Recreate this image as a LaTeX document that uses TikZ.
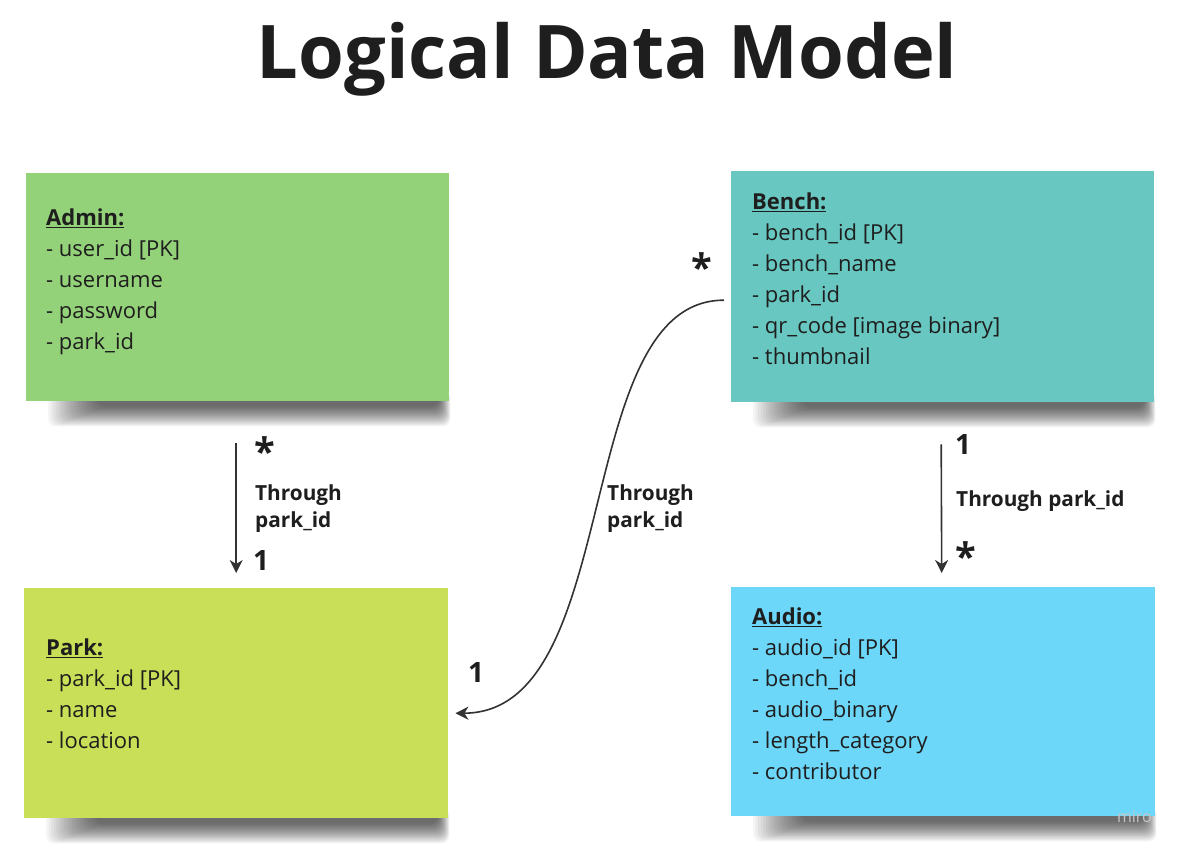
\documentclass[tikz,border=0pt]{standalone}
\usepackage{fontspec}
\setmainfont{Open Sans}
\usetikzlibrary{arrows.meta,backgrounds}

\definecolor{inkdark}{HTML}{1E1E1E}
\definecolor{linecol}{HTML}{333333}
\definecolor{admincol}{HTML}{94D27A}
\definecolor{parkcol}{HTML}{C9DF57}
\definecolor{benchcol}{HTML}{68C7C1}
\definecolor{audiocol}{HTML}{6DD7F9}

\tikzset{
  note/.style={draw=none, inner sep=0pt, anchor=north west},
  noteshadow/.style={fill=black, opacity=0.04, rounded corners=8pt},
  fields/.style={anchor=north west, inner sep=0pt, align=left, text=inkdark,
    font=\fontsize{22}{31}\selectfont},
  rel/.style={draw=linecol, line width=1.6pt,
    -{Stealth[length=13pt, width=13pt, inset=4pt]}},
  relnote/.style={anchor=north west, inner sep=0pt, align=left, text=inkdark,
    font=\fontsize{20.8}{27}\selectfont\bfseries},
  mult/.style={inner sep=0pt, text=inkdark, font=\fontsize{28}{30}\selectfont\bfseries},
  star/.style={inner sep=0pt, text=inkdark, font=\fontsize{38}{40}\selectfont\bfseries},
}

\begin{document}
\begin{tikzpicture}[x=1pt, y=-1pt]
\useasboundingbox (0,0) rectangle (1178,848);

% heading
\node[anchor=base, inner sep=0pt, text=inkdark,
  font=\fontsize{74}{80}\selectfont\bfseries] (title) at (607,79) {Logical Data Model};

% entity notes
\node[note, fill=admincol, minimum width=423pt, minimum height=228pt] (admin) at (26,173) {};
\node[note, fill=parkcol,  minimum width=424pt, minimum height=230pt] (park)  at (24,588) {};
\node[note, fill=benchcol, minimum width=423pt, minimum height=231pt] (bench) at (731,171) {};
\node[note, fill=audiocol, minimum width=424pt, minimum height=229pt] (audio) at (731,587) {};

% soft shadow strips under the notes, built from stacked translucent layers
\begin{pgfonlayer}{background}
  \fill[white] (0,0) rectangle (1178,848);
  \foreach \n in {admin, park, bench, audio}
    \foreach \k in {0,...,19}
      \fill[noteshadow] ([xshift={22+2.6*\k}, yshift=10pt]\n.south west)
        rectangle ([xshift={1-0.6*\k}, yshift={-(25-1.05*\k)}]\n.south east);
\end{pgfonlayer}

% entity attributes
\node[fields] (admintxt) at (46,209) {\underline{\textbf{Admin:}}\\- user\_id [PK]\\- username\\- password\\- park\_id};
\node[fields] (parktxt) at (46,639) {\underline{\textbf{Park:}}\\- park\_id [PK]\\- name\\- location};
\node[fields] (benchtxt) at (752,193) {\underline{\textbf{Bench:}}\\- bench\_id [PK]\\- bench\_name\\- park\_id\\- qr\_code [image binary]\\- thumbnail};
\node[fields] (audiotxt) at (752,608) {\underline{\textbf{Audio:}}\\- audio\_id [PK]\\- bench\_id\\- audio\_binary\\- length\_category\\- contributor};

% relationships
\draw[rel] ([xshift=-1.5pt, yshift=-42pt]admin.south) -- ([yshift=15pt]park.north);
\draw[rel] ([xshift=-1.5pt, yshift=-42pt]bench.south) -- ([xshift=-1.5pt, yshift=14pt]audio.north);
\draw[rel] ([xshift=-7pt, yshift=-13.5pt]bench.west)
  .. controls (570,300) and (625,713) .. ([xshift=7pt, yshift=-10pt]park.east);

% relationship labels
\node[star] (s1) at (265,451) {*};
\node[mult] (m1) at (261,561) {1};
\node[relnote] (r1) at (255,484) {Through\\park\_id};

\node[star] (s2) at (702,267) {*};
\node[mult] (m2) at (476,672) {1};
\node[relnote] (r2) at (607,484) {Through\\park\_id};

\node[mult] (m3) at (963,445) {1};
\node[relnote] (r3) at (956,490) {Through park\_id};
\node[star] (s3) at (966,556) {*};

% board watermark
\node[anchor=base east, inner sep=0pt, text=black!22,
  font=\fontsize{16}{18}\selectfont] (wm) at (1152,822) {miro};
\end{tikzpicture}
\end{document}
